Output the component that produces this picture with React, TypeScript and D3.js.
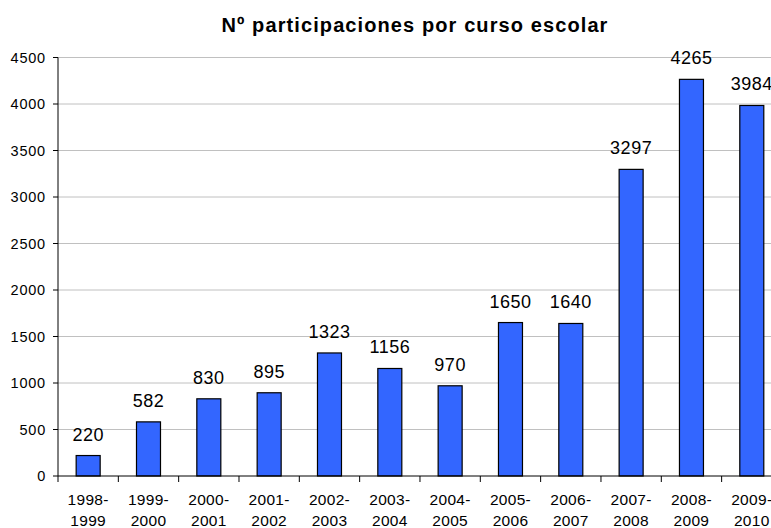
import React from "react";
import * as d3 from "d3";

const categories = ["1998-1999","1999-2000","2000-2001","2001-2002","2002-2003","2003-2004","2004-2005","2005-2006","2006-2007","2007-2008","2008-2009","2009-2010"];
const values = [220, 582, 830, 895, 1323, 1156, 970, 1650, 1640, 3297, 4265, 3984];
const yTicks = [0, 500, 1000, 1500, 2000, 2500, 3000, 3500, 4000, 4500];
const title = "Nº participaciones por curso escolar";

export default function App() {
  const W = 771, H = 528;
  const left = 58, top = 57.5, bottom = 476;
  const step = 60.33;
  const right = left + step * categories.length;
  const x = d3.scaleBand<string>().domain(categories).range([left, right]).paddingInner(0).paddingOuter(0);
  const y = d3.scaleLinear().domain([0, 4500]).range([bottom, top]);
  const barW = 24;
  const font = "Liberation Sans, Arial, sans-serif";
  return (
    <svg width={W} height={H} style={{ position: "absolute", left: 0, top: 0, background: "#fff" }} fontFamily={font}>
      <rect x={0} y={0} width={W} height={H} fill="#fff" />
      <text x={415} y={32} textAnchor="middle" fontSize={20} fontWeight="bold" letterSpacing={1.1} fill="#000">{title}</text>
      {yTicks.map(t => (
        <g key={t}>
          {t > 0 && <line x1={left} x2={W} y1={y(t)} y2={y(t)} stroke="#c0c0c0" strokeWidth={1} />}
          <line x1={left - 5} x2={left} y1={y(t)} y2={y(t)} stroke="#000" strokeWidth={1} />
          <text x={left - 12} y={y(t) + 5} textAnchor="end" fontSize={14.5} letterSpacing={0.8} fill="#000">{t}</text>
        </g>
      ))}
      {categories.map((c, i) => {
        const cx = (x(c) as number) + x.bandwidth() / 2;
        const v = values[i];
        const [a, b] = c.split("-");
        return (
          <g key={c}>
            <rect x={cx - barW / 2} y={y(v)} width={barW} height={bottom - y(v)} fill="#3366ff" stroke="#000" strokeWidth={1.2} />
            <text x={cx} y={y(v) - 15} textAnchor="middle" fontSize={18} letterSpacing={0.5} fill="#000">{v}</text>
            <text x={cx} y={505} textAnchor="middle" fontSize={15.5} letterSpacing={0.3} fill="#000">{a + "-"}</text>
            <text x={cx} y={526} textAnchor="middle" fontSize={15.5} letterSpacing={0.3} fill="#000">{b}</text>
          </g>
        );
      })}
      {categories.map((c, i) => (
        <line key={"t" + i} x1={(x(c) as number)} x2={(x(c) as number)} y1={bottom} y2={bottom + 6} stroke="#000" strokeWidth={1} />
      ))}
      <line x1={left} x2={W} y1={bottom} y2={bottom} stroke="#000" strokeWidth={1} />
      <line x1={left} x2={left} y1={top} y2={bottom} stroke="#000" strokeWidth={1} />
    </svg>
  );
}
